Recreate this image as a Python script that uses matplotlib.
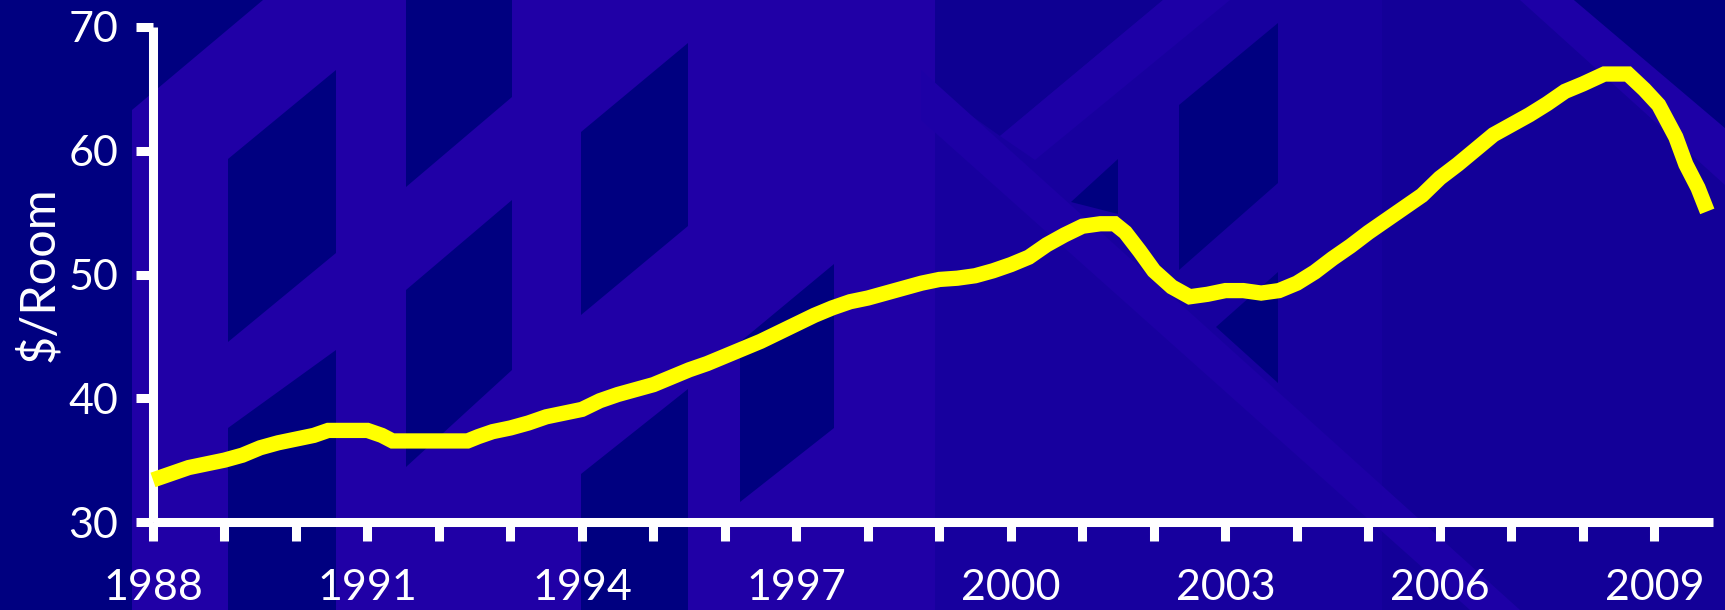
import matplotlib
matplotlib.use("Agg")
import matplotlib.pyplot as plt
from matplotlib.patches import Polygon

# ---------------- data ----------------
years = [1988.00, 1988.25, 1988.50, 1988.75, 1989.00, 1989.25, 1989.50, 1989.75,
         1990.00, 1990.25, 1990.45, 1991.00, 1991.20, 1991.35, 1992.40, 1992.55,
         1992.75, 1993.00, 1993.25, 1993.50, 1993.75, 1994.00, 1994.25, 1994.50,
         1994.75, 1995.00, 1995.25, 1995.50, 1995.75, 1996.00, 1996.25, 1996.50,
         1996.75, 1997.00, 1997.25, 1997.50, 1997.75, 1998.00, 1998.25, 1998.50,
         1998.75, 1999.00, 1999.25, 1999.50, 1999.75, 2000.00, 2000.25, 2000.50,
         2000.75, 2001.00, 2001.25, 2001.45, 2001.60, 2001.80, 2002.00, 2002.25,
         2002.50, 2002.75, 2003.00, 2003.25, 2003.50, 2003.75, 2004.00, 2004.25,
         2004.50, 2004.75, 2005.00, 2005.25, 2005.50, 2005.75, 2006.00, 2006.25,
         2006.50, 2006.75, 2007.00, 2007.25, 2007.50, 2007.75, 2008.00, 2008.30,
         2008.63, 2008.86, 2009.06, 2009.30, 2009.44, 2009.61, 2009.74]
room_rate = [33.4, 33.9, 34.4, 34.7, 35.0, 35.4, 36.0, 36.4,
             36.7, 37.0, 37.4, 37.4, 37.0, 36.55, 36.55, 36.9,
             37.3, 37.6, 38.0, 38.5, 38.8, 39.1, 39.8, 40.3,
             40.7, 41.1, 41.7, 42.3, 42.8, 43.4, 44.0, 44.6,
             45.3, 46.0, 46.7, 47.3, 47.8, 48.1, 48.5, 48.9,
             49.3, 49.6, 49.7, 49.9, 50.3, 50.8, 51.4, 52.4,
             53.2, 53.9, 54.1, 54.1, 53.4, 51.9, 50.3, 49.0,
             48.2, 48.4, 48.7, 48.7, 48.5, 48.7, 49.3, 50.2,
             51.3, 52.3, 53.4, 54.4, 55.4, 56.4, 57.8, 58.9,
             60.1, 61.3, 62.1, 62.9, 63.8, 64.8, 65.4, 66.2,
             66.2, 64.95, 63.7, 61.1, 58.9, 57.0, 55.1]

tick_years = list(range(1988, 2010))
tick_labels = [str(y) if (y - 1988) % 3 == 0 else "" for y in tick_years]
y_ticks = [30, 40, 50, 60, 70]
y_label = "$/Room"

# ---------------- figure ----------------
W, H = 1725, 610
fig = plt.figure(figsize=(W / 100, H / 100), dpi=100)
fig.patch.set_facecolor("#000080")

def px(pts):
    return [(x / W, 1 - y / H) for x, y in pts]

def bg(pts, color):
    fig.patches.append(Polygon(px(pts), closed=True, transform=fig.transFigure,
                               facecolor=color, edgecolor="none", zorder=-10))

PURPLE = "#2000A6"
NAVY = "#000080"
# left block
bg([(132, 110), (263, 0), (935, 0), (935, 610), (132, 610)], PURPLE)
# right blocks
bg([(935, 0), (1382, 0), (1382, 610), (935, 610)], "#17009E")
bg([(1382, 0), (1725, 0), (1725, 610), (1382, 610)], "#130098")
bg([(935, 0), (1163, 0), (1000, 136), (935, 90)], "#0E0092")
# diagonal bands
bg([(921, 70), (1520, 610), (1470, 610), (921, 120)], "#1D00A6")
bg([(1163, 0), (1230, 0), (1035, 160), (1000, 136)], "#1D00A6")
bg([(1520, 0), (1574, 0), (1725, 128), (1725, 185)], "#1D00A6")
bg([(1574, 0), (1725, 0), (1725, 128)], NAVY)
# windows
for poly in [
    [(228, 159), (336, 70), (336, 253), (228, 342)],
    [(228, 428), (336, 350), (336, 610), (228, 610)],
    [(406, 0), (512, 0), (512, 97), (406, 187)],
    [(406, 290), (512, 200), (512, 370), (406, 467)],
    [(581, 132), (688, 43), (688, 226), (581, 315)],
    [(581, 474), (688, 389), (688, 610), (581, 610)],
    [(740, 342), (834, 264), (834, 428), (740, 502)],
    [(1179, 105), (1278, 23), (1278, 183), (1179, 270)],
    [(1071, 202), (1118, 159), (1118, 214)],
    [(1216, 327), (1278, 272), (1278, 383)],
]:
    bg(poly, NAVY)

# ---------------- axes ----------------
left, right = 153 / W, 1713 / W
bottom, top = 1 - 522 / H, 1 - 27 / H
ax = fig.add_axes([left, bottom, right - left, top - bottom])
ax.set_facecolor("none")

ax.plot(years, room_rate, color="#FFFF00", lw=11, solid_joinstyle="miter",
        solid_capstyle="butt", clip_on=False, zorder=3)

ax.set_xlim(1988, 2009.82)
ax.set_ylim(30, 70)

for s in ["top", "right"]:
    ax.spines[s].set_visible(False)
for s in ["left", "bottom"]:
    ax.spines[s].set_color("white")
    ax.spines[s].set_linewidth(6.5)
    ax.spines[s].set_capstyle("butt")

font = ["Lato", "DejaVu Sans"]
ax.set_xticks(tick_years)
ax.set_xticklabels(tick_labels, fontsize=31, color="white", family=font)
ax.set_yticks(y_ticks)
ax.set_yticklabels([str(v) for v in y_ticks], fontsize=31, color="white", family=font)
ax.tick_params(axis="x", direction="out", length=13.5, width=6.5, color="white", pad=20)
ax.tick_params(axis="y", direction="out", length=12, width=6.5, color="white", pad=13)

ax.set_ylabel(y_label, fontsize=35, color="white", family=font, labelpad=5)

fig.savefig("out.png", dpi=100, facecolor=fig.get_facecolor())
